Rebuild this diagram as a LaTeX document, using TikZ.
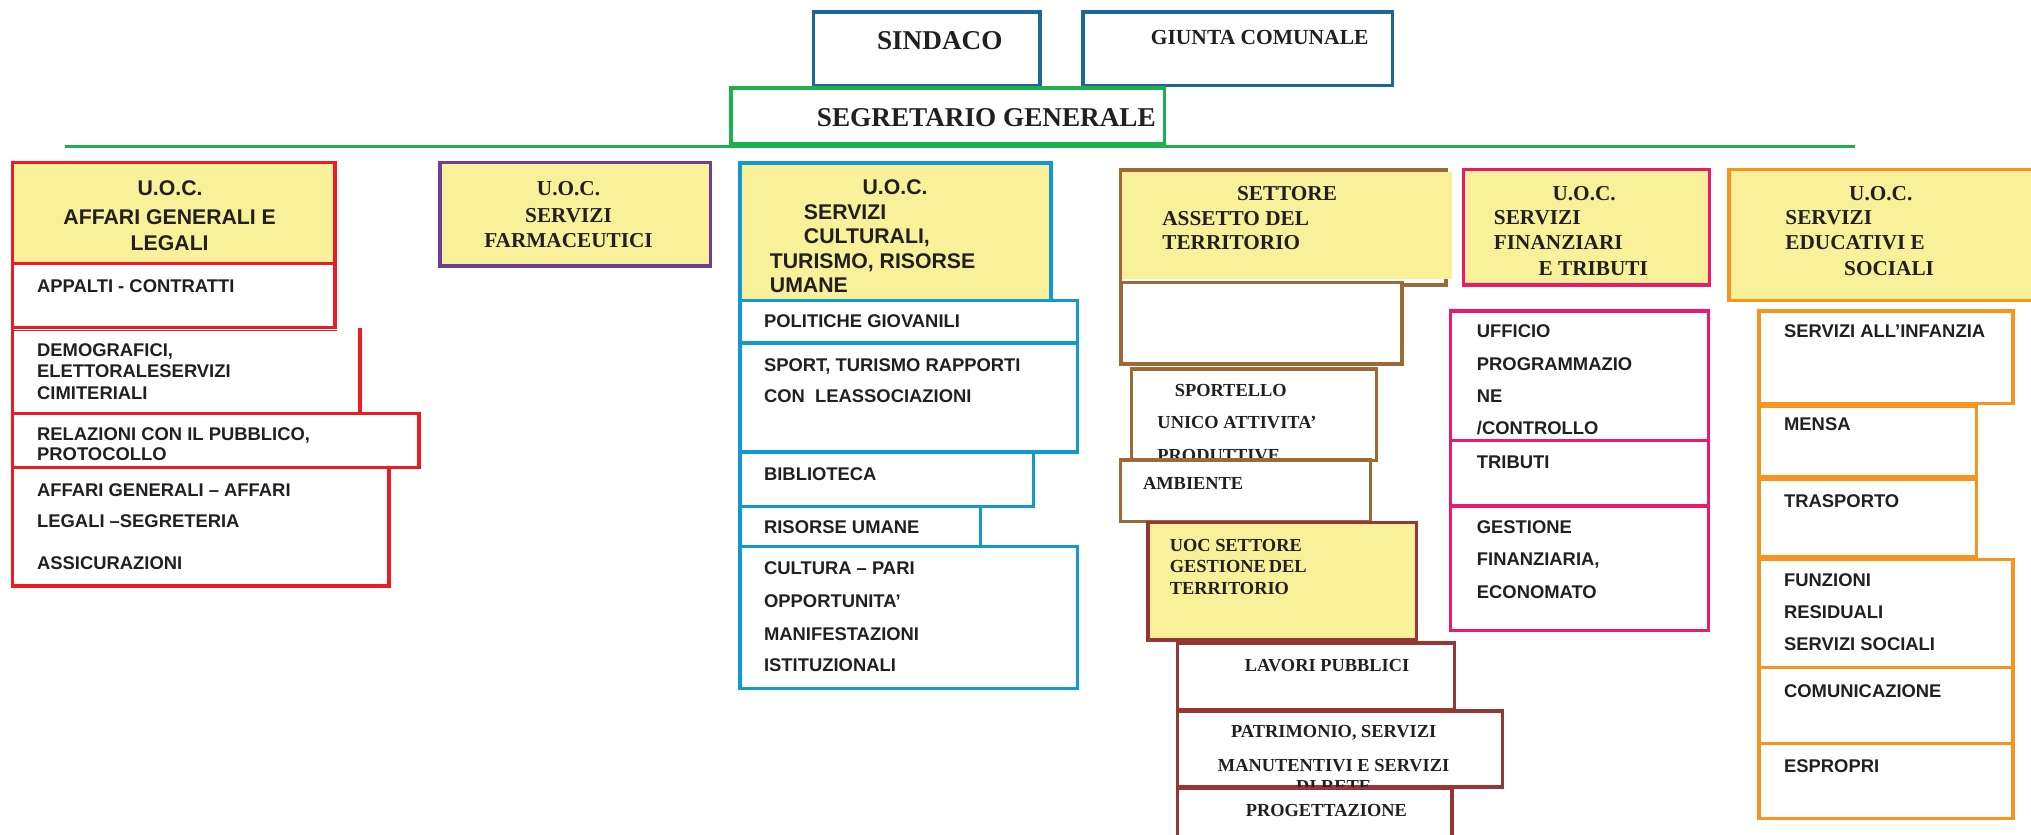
\documentclass[tikz,border=0pt]{standalone}
\usepackage{fontspec}
\setmainfont{Liberation Serif}
\setsansfont{Liberation Sans}
\definecolor{ink}{HTML}{231F20}
\definecolor{headyellow}{HTML}{F8F199}
\definecolor{topblue}{HTML}{1B679C}
\definecolor{segreen}{HTML}{1DB14B}
\definecolor{affred}{HTML}{ED1C24}
\definecolor{farmpurple}{HTML}{6F3C98}
\definecolor{cultblue}{HTML}{1199D0}
\definecolor{assbrown}{HTML}{9C6A35}
\definecolor{gestred}{HTML}{983535}
\definecolor{finpink}{HTML}{EC1A6A}
\definecolor{eduorange}{HTML}{F7941D}

\begin{document}
\begin{tikzpicture}[x=0.5pt,y=-0.5pt,
    frame/.style={line width=1.3pt},
    txt/.style={text=ink,inner sep=0pt,text depth=0pt},
    topfont/.style={txt,font=\bfseries\fontsize{10.5}{12}\selectfont,text height=6.95pt},
    giuntafont/.style={txt,font=\bfseries\fontsize{8.3}{10}\selectfont,text height=5.5pt},
    sanshead/.style={txt,font=\sffamily\bfseries\fontsize{8.2}{9}\selectfont,text height=5.9pt},
    sansitem/.style={txt,anchor=west,font=\sffamily\bfseries\fontsize{7.1}{8}\selectfont,text height=5.1pt},
    serifhead/.style={txt,font=\bfseries\fontsize{8.2}{9}\selectfont,text height=5.4pt},
    serifitem/.style={txt,font=\bfseries\fontsize{7.1}{8}\selectfont,text height=4.7pt}]
    \useasboundingbox (0,0) rectangle (1568,644);
    \clip (0,0) rectangle (1568,644);

    % Sindaco, Giunta, Segretario
    \draw[frame,line width=1.4pt,draw=topblue] (628,9.5) rectangle (803,66);
    \node[topfont] (sindaco) at (725.5,31.5) {SINDACO};
    \draw[frame,line width=1.4pt,draw=topblue] (836,9.5) rectangle (1075,66);
    \node[giuntafont] (giunta) at (972.5,29) {GIUNTA COMUNALE};
    \draw[frame,line width=1.4pt,draw=segreen] (564.5,68) rectangle (899,111);
    \node[topfont] (segretario) at (761.5,90.8) {SEGRETARIO GENERALE};
    \coordinate (barL) at (50,113.3);
    \coordinate (barR) at (1432,113.3);
    \draw[frame,draw=segreen] (barL) -- (barR);

    % U.O.C. Affari generali e legali
    \draw[frame,draw=affred,fill=headyellow] (9.5,125.3) rectangle (258.7,203.3);
    \node[sanshead] (affuoc) at (131.3,145.4) {U.O.C.};
    \node[sanshead] (affname) at (131,167.3) {AFFARI GENERALI E};
    \node[sanshead] (afflegali) at (131,187.4) {LEGALI};
    \draw[frame,draw=affred] (9.5,203.3) rectangle (258.7,253);
    \node[sansitem] (appalti) at (28.3,220.6) {APPALTI - CONTRATTI};
    \draw[line width=0.6pt,draw=affred] (9.5,255.2) -- (260,255.2);
    \draw[frame,draw=affred] (278,253) -- (278,319.2);
    \draw[frame,draw=affred] (9.5,253) -- (9.5,319.2);
    \node[sansitem] (demo1) at (28.3,269.8) {DEMOGRAFICI,};
    \node[sansitem] (demo2) at (28.3,286.2) {ELETTORALESERVIZI};
    \node[sansitem] (demo3) at (28.3,303) {CIMITERIALI};
    \draw[frame,draw=affred] (9.5,319.2) rectangle (323.6,360.9);
    \node[sansitem] (urp1) at (28.3,334.6) {RELAZIONI CON IL PUBBLICO,};
    \node[sansitem] (urp2) at (28.3,350.6) {PROTOCOLLO};
    \draw[frame,draw=affred] (9.5,360.9) rectangle (300.4,452.3);
    \node[sansitem] (segr1) at (28.3,377.9) {AFFARI GENERALI – AFFARI};
    \node[sansitem] (segr2) at (28.3,402.3) {LEGALI –SEGRETERIA};
    \node[sansitem] (segr3) at (28.3,434.2) {ASSICURAZIONI};

    % U.O.C. Servizi farmaceutici
    \draw[frame,draw=farmpurple,fill=headyellow] (339.8,125.6) rectangle (548.3,205.4);
    \node[serifhead] (farmuoc) at (438.9,145.4) {U.O.C.};
    \node[serifhead] (farmserv) at (438.9,166) {SERVIZI};
    \node[serifhead] (farmname) at (438.9,185.3) {FARMACEUTICI};

    % U.O.C. Servizi culturali
    \draw[frame,draw=cultblue,fill=headyellow] (571.4,125.9) rectangle (811.3,231.8);
    \node[sanshead] (cultuoc) at (691,144.3) {U.O.C.};
    \node[sanshead,anchor=west] (cult1) at (620.3,163.2) {SERVIZI};
    \node[sanshead,anchor=west] (cult2) at (620.3,182.2) {CULTURALI,};
    \node[sanshead,anchor=west] (cult3) at (594,201.2) {TURISMO, RISORSE};
    \node[sanshead,anchor=west] (cult4) at (594,220) {UMANE};
    \draw[frame,draw=cultblue] (571.4,231.8) rectangle (831.7,264.8);
    \node[sansitem] (giovani) at (589.5,248) {POLITICHE GIOVANILI};
    \draw[frame,draw=cultblue] (571.4,264.8) rectangle (831.7,348.9);
    \node[sansitem] (sport1) at (589.5,281.6) {SPORT, TURISMO RAPPORTI};
    \node[sansitem] (sport2) at (589.5,306) {CON~~LEASSOCIAZIONI};
    \draw[frame,draw=cultblue] (571.4,348.9) rectangle (797.8,390.9);
    \node[sansitem] (biblio) at (589.5,365.6) {BIBLIOTECA};
    \draw[frame,draw=cultblue] (571.4,390.9) rectangle (756.8,422);
    \node[sansitem] (risorse) at (589.5,407) {RISORSE UMANE};
    \draw[frame,draw=cultblue] (571.4,422) rectangle (831.7,531.7);
    \node[sansitem] (cultura1) at (589.5,438.8) {CULTURA – PARI};
    \node[sansitem] (cultura2) at (589.5,464) {OPPORTUNITA’};
    \node[sansitem] (cultura3) at (589.5,489.2) {MANIFESTAZIONI};
    \node[sansitem] (cultura4) at (589.5,513.6) {ISTITUZIONALI};

    % Settore assetto del territorio
    \draw[frame,draw=assbrown] (864.9,131.3) rectangle (1116.4,220.1);
    \fill[headyellow] (866.2,132.6) rectangle (1121,215.7);
    \node[serifhead] (assett) at (993.6,149.3) {SETTORE};
    \node[serifhead,anchor=west] (ass1) at (897,168.6) {ASSETTO DEL};
    \node[serifhead,anchor=west] (ass2) at (897,187.4) {TERRITORIO};
    \draw[frame,draw=assbrown,fill=white] (865.4,218.3) rectangle (1082.4,281.1);
    \draw[frame,draw=assbrown,fill=white] (873.4,284.9) rectangle (1062.5,355.7);
    \node[serifitem,anchor=west] (suap1) at (906.6,301.7) {SPORTELLO};
    \node[serifitem,anchor=west] (suap2) at (893.2,326.4) {UNICO ATTIVITA’};
    \node[serifitem,anchor=west] (suap3) at (893.2,351.5) {PRODUTTIVE};
    \draw[frame,draw=assbrown,fill=white] (864.9,355.2) rectangle (1058,402.8);
    \node[serifitem,anchor=west] (ambiente) at (882.1,373.2) {AMBIENTE};

    % UOC settore gestione del territorio
    \draw[frame,draw=gestred,fill=headyellow] (886.2,403.6) rectangle (1093.4,494.2);
    \node[serifitem,anchor=west] (gest1) at (902.7,420.8) {UOC SETTORE};
    \node[serifitem,anchor=west] (gest2) at (902.7,437.6) {GESTIONE\,DEL};
    \node[serifitem,anchor=west] (gest3) at (902.7,454.3) {TERRITORIO};
    \draw[frame,draw=gestred] (909.1,496.3) rectangle (1122.8,547.8);
    \node[serifitem] (lavori) at (1024.5,514) {LAVORI PUBBLICI};
    \draw[frame,draw=gestred] (909.1,548.8) rectangle (1160,607.5);
    \node[serifitem] (patr1) at (1029.6,565) {PATRIMONIO, SERVIZI};
    \node[serifitem] (patr2) at (1029.6,590.7) {MANUTENTIVI E SERVIZI};
    \node[serifitem] (patr3) at (1029.6,607) {DI RETE};
    \draw[frame,draw=gestred,fill=white] (909.1,608.7) rectangle (1121,660);
    \node[serifitem] (progett) at (1024,625.5) {PROGETTAZIONE};

    % U.O.C. Servizi finanziari e tributi
    \draw[frame,draw=finpink,fill=headyellow] (1130,131) rectangle (1320,220);
    \node[serifhead] (finuoc) at (1223,149.6) {U.O.C.};
    \node[serifhead,anchor=west] (fin1) at (1153,168) {SERVIZI};
    \node[serifhead,anchor=west] (fin2) at (1153,187) {FINANZIARI};
    \node[serifhead,anchor=west] (fin3) at (1187.5,206.9) {E TRIBUTI};
    \draw[frame,draw=finpink] (1120,240) rectangle (1319,340);
    \node[sansitem] (progr1) at (1139.8,255.7) {UFFICIO};
    \node[sansitem] (progr2) at (1139.8,281) {PROGRAMMAZIO};
    \node[sansitem] (progr3) at (1139.8,306) {NE};
    \node[sansitem] (progr4) at (1139.8,330.5) {/CONTROLLO};
    \draw[frame,draw=finpink] (1120,340) rectangle (1319,390.6);
    \node[sansitem] (tributi) at (1139.8,356.9) {TRIBUTI};
    \draw[frame,draw=finpink] (1120,390.6) rectangle (1319,486.7);
    \node[sansitem] (econ1) at (1139.8,406.5) {GESTIONE};
    \node[sansitem] (econ2) at (1139.8,431.8) {FINANZIARIA,};
    \node[sansitem] (econ3) at (1139.8,457) {ECONOMATO};

    % U.O.C. Servizi educativi e sociali
    \draw[frame,draw=eduorange,fill=headyellow] (1334.8,131) rectangle (1580,232.2);
    \node[serifhead] (eduuoc) at (1452,149.6) {U.O.C.};
    \node[serifhead,anchor=west] (edu1) at (1378,168) {SERVIZI};
    \node[serifhead,anchor=west] (edu2) at (1378,187) {EDUCATIVI E};
    \node[serifhead,anchor=west] (edu3) at (1423.4,207) {SOCIALI};
    \draw[frame,draw=eduorange] (1358,240) rectangle (1554,311.4);
    \node[sansitem] (infanzia) at (1377,255.7) {SERVIZI ALL’INFANZIA};
    \draw[frame,draw=eduorange] (1358,314) rectangle (1526,368);
    \node[sansitem] (mensa) at (1377,327.6) {MENSA};
    \draw[frame,draw=eduorange] (1358,370.4) rectangle (1526,430);
    \node[sansitem] (trasporto) at (1377,386.7) {TRASPORTO};
    \draw[frame,draw=eduorange] (1358,431.8) rectangle (1554,515.5);
    \node[sansitem] (resid1) at (1377,448) {FUNZIONI};
    \node[sansitem] (resid2) at (1377,472.5) {RESIDUALI};
    \node[sansitem] (resid3) at (1377,497) {SERVIZI SOCIALI};
    \draw[frame,draw=eduorange] (1358,515.5) rectangle (1554,573.8);
    \node[sansitem] (comunic) at (1377,533) {COMUNICAZIONE};
    \draw[frame,draw=eduorange] (1358,573.8) rectangle (1554,631.7);
    \node[sansitem] (espropri) at (1377,591) {ESPROPRI};
\end{tikzpicture}
\end{document}
